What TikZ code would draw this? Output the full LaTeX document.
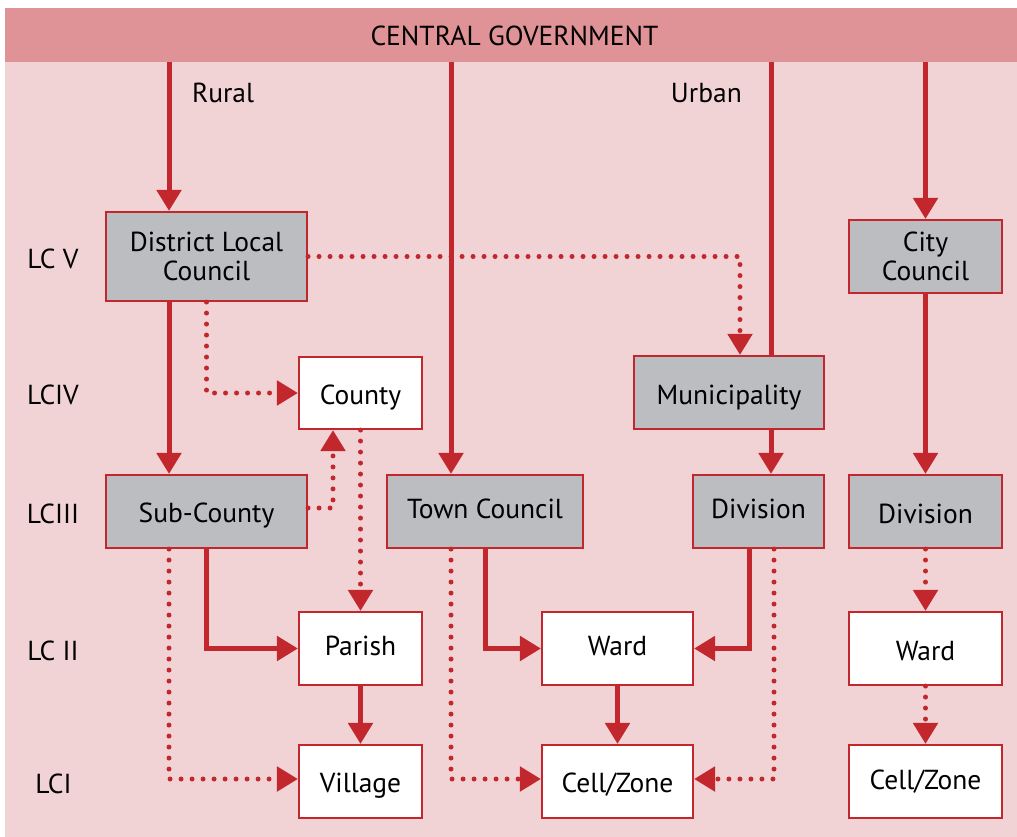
\documentclass[tikz,border=0pt]{standalone}
\usepackage{fontspec}
\setmainfont{PT Sans}
\usetikzlibrary{arrows.meta}
\definecolor{hdr}{HTML}{DF9397}
\definecolor{bgp}{HTML}{F2D3D5}
\definecolor{myred}{HTML}{C1272D}
\definecolor{boxgray}{HTML}{BCBDC0}
\begin{document}
\begin{tikzpicture}[x=1pt,y=-1pt,
  every node/.style={font=\fontsize{27.5}{29}\selectfont, text=black},
  box/.style={draw=myred, line width=1.6pt, inner sep=0pt, align=center},
  graybox/.style={box, fill=boxgray},
  whitebox/.style={box, fill=white},
  th/.style={text height=#1, text depth=0pt},
  lbl/.style={anchor=base, inner sep=0pt},
  solidarrow/.style={draw=myred, line width=5pt, -{Triangle[length=21pt,width=24pt]}},
  solidline/.style={draw=myred, line width=5pt},
  dotarrow/.style={draw=myred, line width=5pt, line cap=round, dash pattern=on 0pt off 11pt, -{Triangle[length=21pt,width=24pt]}}
]
\useasboundingbox (0,0) rectangle (1017,837);
\fill[bgp] (5,8) rectangle (1017,837);
\node[fill=hdr, minimum width=1012pt, minimum height=54pt, inner sep=0pt] (cg) at (511,35) {};
\node[lbl] (cgt) at (514.5,46) {CENTRAL GOVERNMENT};

% column coordinates
\coordinate (xr) at (169,0);
\coordinate (xt) at (451,0);
\coordinate (xu) at (771,0);
\coordinate (xm) at (740,0);
\coordinate (xc) at (333,0);
\coordinate (xds) at (749,0);
\coordinate (xdd) at (774,0);

% labels
\node[lbl, anchor=base west] (rural) at (192,103) {Rural};
\node[lbl, anchor=base east] (urban) at (742,103) {Urban};
\node[lbl] (l5) at (53,268) {LC V};
\node[lbl] (l4) at (53,404) {LCIV};
\node[lbl] (l3) at (53,523) {LCIII};
\node[lbl] (l2) at (53,660) {LC II};
\node[lbl] (l1) at (53.5,793) {LCI};

% boxes
\node[graybox, minimum width=201.5pt, minimum height=89.5pt] (dlc) at (206.5,256.5) {District Local\\Council};
\node[graybox, minimum width=153.5pt, minimum height=73.5pt] (city) at (925.5,256.5) {City\\Council};
\node[whitebox, minimum width=123.5pt, minimum height=72.5pt, th=22pt] (county) at (360.5,393) {County};
\node[graybox, minimum width=190.5pt, minimum height=73.5pt, th=23pt] (muni) at (729,392.5) {Municipality};
\node[graybox, minimum width=201.5pt, minimum height=73.5pt, th=22pt] (sc) at (206.5,511.5) {Sub-County};
\node[graybox, minimum width=196.5pt, minimum height=73.5pt, th=13pt] (tc) at (485,511.5) {Town Council};
\node[graybox, minimum width=131.5pt, minimum height=73.5pt, th=13pt] (divm) at (758.5,511.5) {Division};
\node[graybox, minimum width=153.5pt, minimum height=73.5pt, th=23pt] (divr) at (925.5,511.5) {Division};
\node[whitebox, minimum width=123.5pt, minimum height=73.5pt, th=13pt] (parish) at (360.5,648.5) {Parish};
\node[whitebox, minimum width=151.5pt, minimum height=73.5pt, th=13pt] (wardm) at (617.5,648.5) {Ward};
\node[whitebox, minimum width=153.5pt, minimum height=73.5pt, th=23pt] (wardr) at (925.5,648.5) {Ward};
\node[whitebox, minimum width=123.5pt, minimum height=73.5pt, th=22pt] (village) at (360.5,781.5) {Village};
\node[whitebox, minimum width=151.5pt, minimum height=73.5pt, th=22pt] (cellm) at (617.5,781.5) {Cell/Zone};
\node[whitebox, minimum width=153.5pt, minimum height=73.5pt, th=15pt] (cellr) at (925.5,781.5) {Cell/Zone};

% from central government
\draw[solidarrow] (cg.south -| xr) -- (dlc.north -| xr);
\draw[solidarrow] (cg.south -| xt) -- (tc.north -| xt);
\draw[solidline] (cg.south -| xu) -- (muni.north -| xu);
\draw[solidarrow] (cg.south -| city.north) -- (city.north);

% rural
\draw[solidarrow] (dlc.south -| xr) -- (sc.north -| xr);
\draw[dotarrow] (dlc.south) |- (county.west);
\draw[dotarrow] (dlc.east) -| (xm |- muni.north);
\draw[dotarrow] ([yshift=3.5pt]sc.east) -| (xc |- county.south);
\draw[dotarrow] (county.south) -- (parish.north);
\draw[solidarrow] (sc.south) |- (parish.west);
\draw[dotarrow] (sc.south -| xr) |- ([yshift=2.5pt]village.west);
\draw[solidarrow] (parish.south) -- (village.north);

% urban
\draw[dotarrow] (tc.south -| xt) |- ([yshift=2.5pt]cellm.west);
\draw[solidarrow] (tc.south) |- (wardm.west);
\draw[solidarrow] (muni.south -| xu) -- (divm.north -| xu);
\draw[solidarrow] (divm.south -| xds) |- (wardm.east);
\draw[dotarrow] (divm.south -| xdd) |- ([yshift=2.5pt]cellm.east);
\draw[solidarrow] (wardm.south) -- (cellm.north);

% city
\draw[solidarrow] (city.south) -- (divr.north);
\draw[dotarrow] (divr.south) -- (wardr.north);
\draw[dotarrow] (wardr.south) -- (cellr.north);
\end{tikzpicture}
\end{document}
